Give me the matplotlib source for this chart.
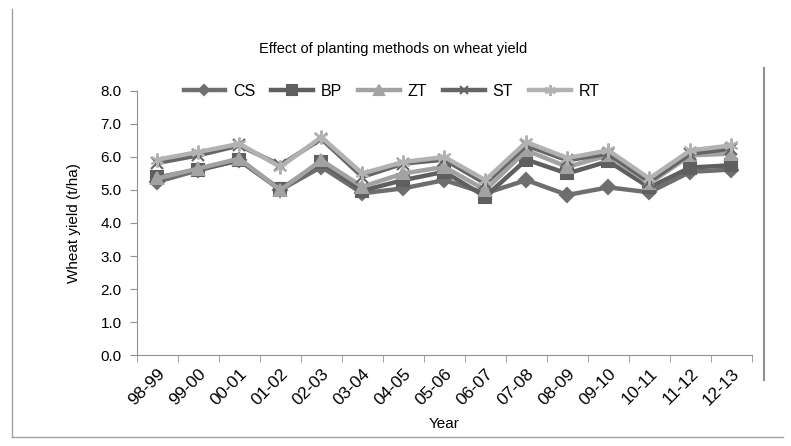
import matplotlib.pyplot as plt
from matplotlib.lines import Line2D

plt.rcParams["font.family"] = ["Liberation Sans", "DejaVu Sans"]

years = ["98-99", "99-00", "00-01", "01-02", "02-03", "03-04", "04-05", "05-06",
         "06-07", "07-08", "08-09", "09-10", "10-11", "11-12", "12-13"]
cs = [5.25, 5.6, 5.9, 5.0, 5.7, 4.9, 5.05, 5.3, 4.9, 5.3, 4.85, 5.08, 4.93, 5.55, 5.62]
bp = [5.38, 5.62, 5.9, 5.02, 5.85, 4.98, 5.3, 5.55, 4.8, 5.92, 5.5, 5.87, 5.08, 5.68, 5.75]
zt = [5.35, 5.65, 5.95, 5.0, 5.9, 5.1, 5.5, 5.7, 5.0, 6.2, 5.7, 6.05, 5.2, 6.05, 6.1]
st = [5.82, 6.05, 6.35, 5.75, 6.55, 5.4, 5.8, 5.92, 5.2, 6.35, 5.9, 6.1, 5.25, 6.1, 6.25]
rt = [5.92, 6.15, 6.4, 5.7, 6.6, 5.5, 5.85, 6.0, 5.3, 6.45, 5.97, 6.2, 5.35, 6.2, 6.35]

fig = plt.figure(figsize=(7.91, 4.46), dpi=100)
ax = fig.add_axes([0.173, 0.204, 0.7775, 0.592])

x = list(range(len(years)))
series = [
    ("CS", cs, "#6e6e6e", "D", 7),
    ("BP", bp, "#5f5f5f", "s", 9),
    ("ZT", zt, "#a2a2a2", "^", 9),
    ("ST", st, "#656565", "x", 8),
    ("RT", rt, "#b2b2b2", (6, 2, 0), 10),
]
for name, vals, col, mk, ms in series:
    ax.plot(x, vals, color=col, lw=3.2, marker=mk, ms=ms, mec=col, mfc=col,
            mew=1.5, label=name)

ax.set_xlim(-0.5, len(years) - 0.5)
ax.set_ylim(0, 8)
ax.set_yticks([i for i in range(9)])
ax.set_yticklabels([f"{i:.1f}" for i in range(9)], fontsize=11)
ax.set_xticks(x)
ax.set_xticklabels(years, rotation=45, ha="right", rotation_mode="anchor", fontsize=12.5)
ax.set_xticks([i - 0.5 for i in range(len(years) + 1)], minor=True)
ax.tick_params(axis="x", which="major", length=0, pad=8)
ax.tick_params(axis="x", which="minor", length=5, color="#909090")
ax.tick_params(axis="y", length=5, color="#909090", pad=6)

for s in ["top", "right"]:
    ax.spines[s].set_visible(False)
for s in ["left", "bottom"]:
    ax.spines[s].set_color("#909090")

ax.set_xlabel("Year", fontsize=11, labelpad=6)
ax.set_ylabel("Wheat yield (t/ha)", fontsize=11, labelpad=14)

fig.text(0.497, 0.89, "Effect of planting methods on wheat yield", ha="center",
         va="center", fontsize=10.5)
fig.legend(loc="center", bbox_to_anchor=(0.495, 0.795), ncol=5, frameon=False,
           fontsize=11.5, handlelength=2.6, columnspacing=1.0, handletextpad=0.5,
           markerscale=0.8)

# chart frame
fig.add_artist(Line2D([12 / 791, 12 / 791], [0.02, 0.98], color="#a0a0a0", lw=1))
fig.add_artist(Line2D([12 / 791, 0.99], [9 / 446, 9 / 446], color="#a0a0a0", lw=1))
fig.add_artist(Line2D([764 / 791, 764 / 791], [1 - 380 / 446, 1 - 68 / 446],
                      color="#909090", lw=1.5))

fig.savefig("out.png", dpi=100)
